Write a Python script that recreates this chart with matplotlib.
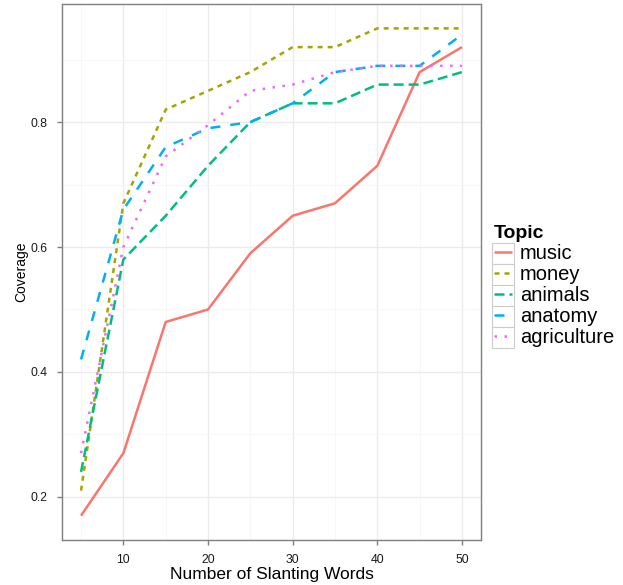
import matplotlib
matplotlib.use("Agg")
import matplotlib.pyplot as plt
from matplotlib.patches import Rectangle
from matplotlib.ticker import MultipleLocator

plt.rcParams['font.family'] = ['Liberation Sans', 'DejaVu Sans']

words = [5, 10, 15, 20, 25, 30, 35, 40, 45, 50]
topics = ["music", "money", "animals", "anatomy", "agriculture"]
music = [0.17, 0.27, 0.48, 0.50, 0.59, 0.65, 0.67, 0.73, 0.88, 0.92]
money = [0.21, 0.67, 0.82, 0.85, 0.88, 0.92, 0.92, 0.95, 0.95, 0.95]
animals = [0.24, 0.58, 0.65, 0.73, 0.80, 0.83, 0.83, 0.86, 0.86, 0.88]
anatomy = [0.42, 0.66, 0.76, 0.79, 0.80, 0.83, 0.88, 0.89, 0.89, 0.94]
agriculture = [0.27, 0.60, 0.745, 0.795, 0.85, 0.86, 0.88, 0.89, 0.89, 0.89]
series = [music, money, animals, anatomy, agriculture]

colors = ["#F8766D", "#A3A500", "#00BF7D", "#00B0F6", "#E76BF3"]
styles = ["-", (0, (2, 2)), (0, (4, 2)), (0, (4, 4)), (0, (1, 3))]

W, H = 623, 585
fig = plt.figure(figsize=(W / 100, H / 100), dpi=100)
ax = fig.add_axes([62 / W, (H - 540) / H, (481 - 62) / W, (540 - 4) / H])

handles = []
for vals, name, c, ls in zip(series, topics, colors, styles):
    h, = ax.plot(words, vals, color=c, linestyle=ls, lw=1.8, label=name,
                 solid_capstyle='butt', dash_capstyle='butt')
    handles.append(h)

ax.set_xlim(2.75, 52.25)
ax.set_ylim(0.131, 0.989)
ax.xaxis.set_minor_locator(MultipleLocator(5))
ax.yaxis.set_minor_locator(MultipleLocator(0.1))
ax.set_yticks([0.2, 0.4, 0.6, 0.8])
ax.set_yticklabels(["0.2", "0.4", "0.6", "0.8"])
ax.set_xticks([10, 20, 30, 40, 50])

ax.grid(which='major', color='#EBEBEB', lw=1.0)
ax.grid(which='minor', color='#F7F7F7', lw=0.7)
ax.set_axisbelow(True)
for s in ax.spines.values():
    s.set_color('#7F7F7F')
    s.set_linewidth(1.0)
ax.tick_params(which='major', length=3.6, width=1, color='#7F7F7F',
               labelsize=8.8, labelcolor='#1a1a1a', pad=6.5)
ax.tick_params(which='minor', length=0)

ax.set_xlabel("Number of Slanting Words", fontsize=12.5, labelpad=1)
ax.set_ylabel("Coverage", fontsize=10, labelpad=2)

leg = fig.legend(handles=handles, labels=topics, loc='upper left',
                 bbox_to_anchor=(494 / W, 1 - 225 / H), frameon=False,
                 title="Topic", fontsize=14.5, handlelength=0.9,
                 handletextpad=0.4, labelspacing=0.1, borderaxespad=0,
                 borderpad=0.0, alignment='left')
leg.get_title().set_fontweight('bold')
leg.get_title().set_fontsize(14)

fig.canvas.draw()
r = fig.canvas.get_renderer()
for t in leg.get_texts():
    bb = t.get_window_extent(r)
    cy = (bb.y0 + bb.y1) / 2
    bw, bh = 22, 20.7
    x0 = 492
    rect = Rectangle((x0 / W, (cy - bh / 2) / H), bw / W, bh / H,
                     transform=fig.transFigure, facecolor='white',
                     edgecolor='#CCCCCC', lw=0.8, zorder=-1)
    fig.add_artist(rect)

fig.savefig("out.png", dpi=100)
